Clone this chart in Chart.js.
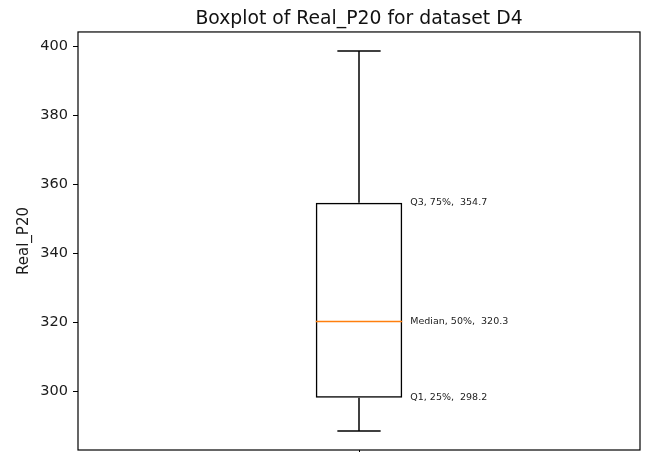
<!DOCTYPE html>
<html>
<head>
<meta charset="utf-8">
<script src="https://cdn.jsdelivr.net/npm/chart.js@4.4.0/dist/chart.umd.min.js"></script>
<style>
  html, body { margin: 0; padding: 0; background: #fff; }
  #wrap { width: 648px; height: 452px; }
</style>
</head>
<body>
<div id="wrap"><canvas id="boxChart" width="648" height="452"></canvas></div>
<script>
// Box statistics
const categories = ['1'];
const whiskerLow = [288.6];
const q1Values = [298.2];
const medianValues = [320.3];
const q3Values = [354.7];
const whiskerHigh = [398.6];
const yTicks = [300, 320, 340, 360, 380, 400];
const statNames = ['Q1, 25%,  ', 'Median, 50%,  ', 'Q3, 75%,  '];

// matplotlib style 5% margin around the data
const dataMin = Math.min(...whiskerLow);
const dataMax = Math.max(...whiskerHigh);
const margin = (dataMax - dataMin) * 0.05;

const FONT = 'DejaVu Sans';

// Whiskers, caps, median and the stat labels, placed through the chart's scales
const boxExtras = {
    id: 'boxExtras',
    afterDatasetsDraw(chart) {
        const { ctx, chartArea, scales: { y } } = chart;
        const bars = chart.getDatasetMeta(0).data;

        const line = (x1, y1, x2, y2) => {
            ctx.beginPath();
            ctx.moveTo(x1, y1);
            ctx.lineTo(x2, y2);
            ctx.stroke();
        };

        ctx.save();
        categories.forEach((cat, i) => {
            const bar = bars[i];
            const cx = bar.x;
            const half = bar.width / 2;
            const yLow = y.getPixelForValue(whiskerLow[i]);
            const yQ1 = y.getPixelForValue(q1Values[i]);
            const yMed = y.getPixelForValue(medianValues[i]);
            const yQ3 = y.getPixelForValue(q3Values[i]);
            const yHigh = y.getPixelForValue(whiskerHigh[i]);

            ctx.strokeStyle = '#000';
            ctx.lineWidth = 1.5;
            line(cx, yQ3, cx, yHigh);
            line(cx, yQ1, cx, yLow);
            line(cx - half / 2, yHigh, cx + half / 2, yHigh);
            line(cx - half / 2, yLow, cx + half / 2, yLow);

            ctx.strokeStyle = '#ff7f0e';
            line(cx - half, yMed, cx + half, yMed);

            // stat labels
            ctx.fillStyle = '#222';
            ctx.font = '9.5px "' + FONT + '"';
            ctx.textAlign = 'left';
            ctx.textBaseline = 'middle';
            const stats = [q1Values[i], medianValues[i], q3Values[i]];
            stats.forEach((v, k) => {
                ctx.fillText(statNames[k] + v.toFixed(1), cx + half + 8, y.getPixelForValue(v));
            });
        });

        // axes frame
        ctx.strokeStyle = '#000';
        ctx.lineWidth = 1.2;
        ctx.strokeRect(chartArea.left, chartArea.top,
            chartArea.right - chartArea.left, chartArea.bottom - chartArea.top);
        ctx.restore();
    }
};

new Chart(document.getElementById('boxChart'), {
    type: 'bar',
    data: {
        labels: categories,
        datasets: [{
            label: 'Real_P20',
            data: categories.map((c, i) => [q1Values[i], q3Values[i]]),
            backgroundColor: 'rgba(0,0,0,0)',
            borderColor: '#000',
            borderWidth: 1.5,
            borderSkipped: false,
            barPercentage: 0.154,
            categoryPercentage: 1
        }]
    },
    options: {
        responsive: false,
        animation: false,
        devicePixelRatio: 1,
        layout: { padding: { left: 0, right: 8, top: 0, bottom: 0 } },
        plugins: {
            legend: { display: false },
            tooltip: { enabled: false },
            title: {
                display: true,
                text: 'Boxplot of Real_P20 for dataset D4',
                fullSize: false,
                color: '#111',
                font: { family: FONT, size: 18.8, weight: 'normal' },
                padding: { top: 7.5, bottom: 1.9 }
            }
        },
        scales: {
            x: {
                grid: { drawOnChartArea: false, offset: false, tickLength: 5, color: '#000', lineWidth: 1 },
                ticks: { display: false },
                border: { display: false },
                afterFit: s => { s.height = 2; }
            },
            y: {
                min: dataMin - margin,
                max: dataMax + margin,
                afterBuildTicks: s => { s.ticks = yTicks.map(v => ({ value: v })); },
                grid: { drawOnChartArea: false, tickLength: 5, color: '#000', lineWidth: 1 },
                border: { display: false },
                ticks: {
                    color: '#1a1a1a',
                    padding: 5,
                    font: { family: FONT, size: 14.5 }
                },
                title: {
                    display: true,
                    text: 'Real_P20',
                    color: '#1a1a1a',
                    font: { family: FONT, size: 15 },
                    padding: { top: 15.5, bottom: 0 }
                },
                afterFit: s => {
                    s.width = 78;
                    s.paddingTop = 0;
                    s.paddingBottom = 0;
                }
            }
        }
    },
    plugins: [boxExtras]
});
</script>
</body>
</html>
